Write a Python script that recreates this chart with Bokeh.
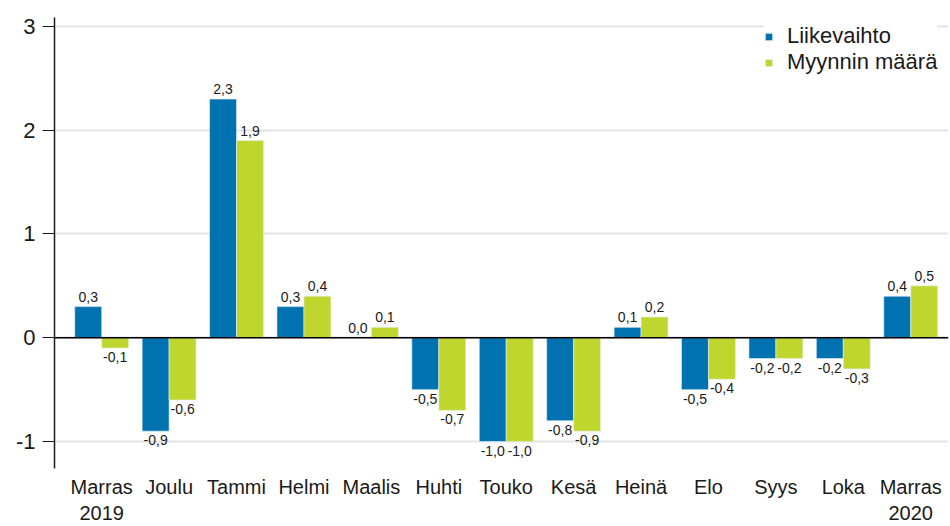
from bokeh.plotting import figure
from bokeh.models import ColumnDataSource, FixedTicker, Span, Range1d, Legend, LegendItem
from bokeh.embed import file_html
from bokeh.resources import INLINE
from bokeh.core.properties import value

categories = ["Marras\n2019", "Joulu", "Tammi", "Helmi", "Maalis", "Huhti", "Touko",
              "Kesä", "Heinä", "Elo", "Syys", "Loka", "Marras\n2020"]
liikevaihto = [0.3, -0.9, 2.3, 0.3, 0.0, -0.5, -1.0, -0.8, 0.1, -0.5, -0.2, -0.2, 0.4]
myynnin_maara = [-0.1, -0.6, 1.9, 0.4, 0.1, -0.7, -1.0, -0.9, 0.2, -0.4, -0.2, -0.3, 0.5]
series_names = ["Liikevaihto", "Myynnin määrä"]
y_ticks = [-1, 0, 1, 2, 3]

BLUE = "#0072b0"
GREEN = "#bfd62f"
FONT = "Liberation Sans"
TXT = "#1a1a1a"

idx = list(range(len(categories)))
bw = 0.4

def fmt(v):
    return ("%.1f" % v).replace(".", ",")

p = figure(width=950, height=526, output_backend="svg", toolbar_location=None,
           x_range=Range1d(-0.70, 12.56), y_range=Range1d(-1.26, 3.086),
           min_border_left=54, min_border_right=2, min_border_top=17, min_border_bottom=58)
p.outline_line_color = None
p.background_fill_color = "white"

p.xgrid.grid_line_color = None
p.ygrid.grid_line_color = "#e4e4e4"
p.ygrid.grid_line_width = 2
p.yaxis.ticker = FixedTicker(ticks=y_ticks)

renderers = []
for vals, off, col in [(liikevaihto, -bw / 2, BLUE), (myynnin_maara, bw / 2, GREEN)]:
    xs = [i + off for i in idx]
    src = ColumnDataSource(dict(x=xs, top=vals))
    r = p.vbar(x="x", top="top", bottom=0, width=bw, source=src,
               fill_color=col, line_color="#e6f0f6", line_width=0.6)
    renderers.append(r)
    pos_src = ColumnDataSource(dict(
        x=[x for x, v in zip(xs, vals) if v >= 0],
        y=[v for v in vals if v >= 0],
        lab=[fmt(v) for v in vals if v >= 0]))
    neg_src = ColumnDataSource(dict(
        x=[x for x, v in zip(xs, vals) if v < 0],
        y=[v for v in vals if v < 0],
        lab=[fmt(v) for v in vals if v < 0]))
    p.text(x="x", y="y", text="lab", source=pos_src, text_align="center",
           text_baseline="bottom", y_offset=-5, text_font=value(FONT),
           text_font_size="14px", text_color=TXT)
    p.text(x="x", y="y", text="lab", source=neg_src, text_align="center",
           text_baseline="top", y_offset=4, text_font=value(FONT),
           text_font_size="14px", text_color=TXT)

p.add_layout(Span(location=0, dimension="width", line_color="black", line_width=1.5))

# y axis
p.yaxis.axis_line_color = "#1a1a1a"
p.yaxis.axis_line_width = 1.5
p.yaxis.major_tick_out = 12
p.yaxis.major_tick_in = 0
p.yaxis.major_tick_line_color = "#1a1a1a"
p.yaxis.major_tick_line_width = 1.2
p.yaxis.minor_tick_line_color = None
p.yaxis.major_label_text_font = FONT
p.yaxis.major_label_text_font_size = "22px"
p.yaxis.major_label_text_color = TXT
p.yaxis.major_label_standoff = 7
p.yaxis.major_label_overrides = {t: ("%d" % t) for t in y_ticks}

# x axis
p.xaxis.ticker = FixedTicker(ticks=idx)
p.xaxis.major_label_overrides = {i: c for i, c in zip(idx, categories)}
p.xaxis.axis_line_color = None
p.xaxis.major_tick_line_color = None
p.xaxis.minor_tick_line_color = None
p.xaxis.major_label_text_font = FONT
p.xaxis.major_label_text_font_size = "20px"
p.xaxis.major_label_text_color = TXT
p.xaxis.major_label_standoff = 1

legend = Legend(items=[LegendItem(label=n, renderers=[r]) for n, r in zip(series_names, renderers)],
                location=(710, 393), glyph_width=9, glyph_height=9, label_height=20,
                label_text_font=FONT, label_text_font_size="22px", label_text_color=TXT,
                border_line_color=None, background_fill_color="white", background_fill_alpha=1,
                spacing=-3, padding=8, margin=0, label_standoff=14)
p.add_layout(legend)

open("out.html", "w").write(file_html(p, INLINE))
